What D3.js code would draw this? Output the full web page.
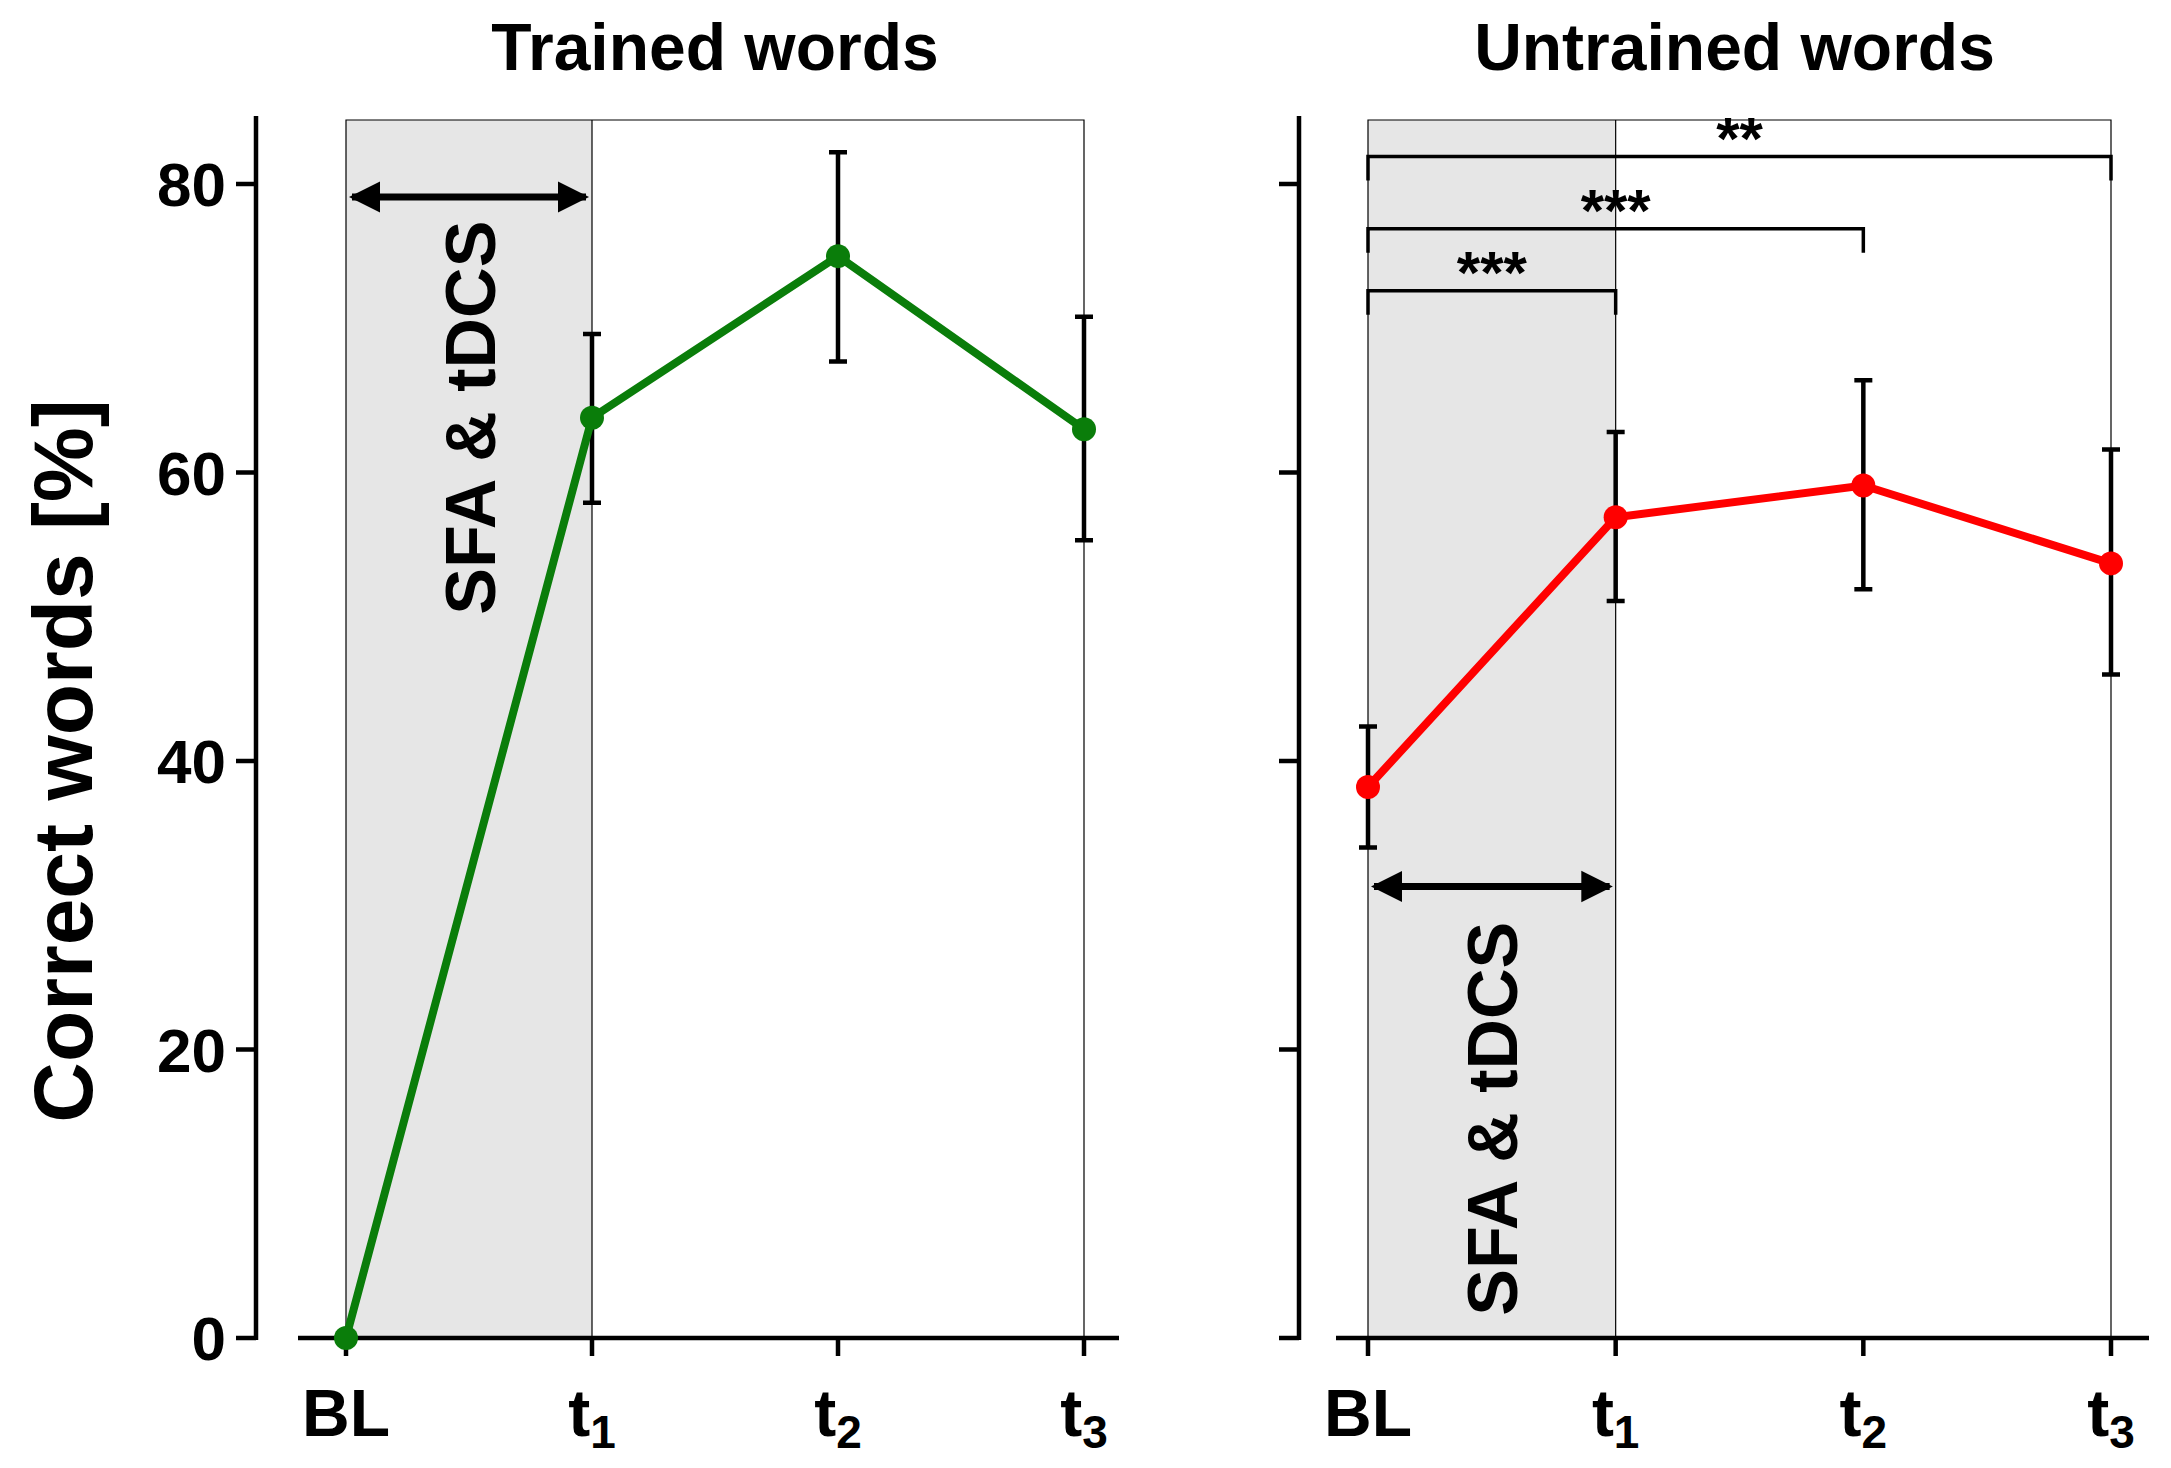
<!DOCTYPE html><html><head><meta charset="utf-8">
<script src="https://cdn.jsdelivr.net/npm/d3@7"></script>
<style>body{margin:0;background:#fff}text{font-family:"Liberation Sans",Arial,sans-serif;font-weight:bold}</style></head><body>
<svg id="c" width="2171" height="1468"></svg>
<script>
const timepoints=["BL","t1","t2","t3"];
const trainedMean=[0,63.8,75,63];
const trainedLow=[0,57.9,67.7,55.3];
const trainedHigh=[0,69.6,82.2,70.8];
const untrainedMean=[38.2,56.9,59.1,53.7];
const untrainedLow=[34,51.1,51.9,46];
const untrainedHigh=[42.4,62.8,66.4,61.6];
const yTicks=[0,20,40,60,80];
const brackets=[{from:0,to:3,y:81.9,label:"**"},{from:0,to:2,y:76.9,label:"***"},{from:0,to:1,y:72.6,label:"***"}];
const svg=d3.select("#c");
const y=d3.scaleLinear().domain([0,80]).range([1338,184]);
svg.append("defs").html('<marker id="ah" viewBox="0 0 10 10" refX="9" refY="5" markerWidth="4.5" markerHeight="5" orient="auto-start-reverse"><path d="M0,0L10,5L0,10z" fill="#000"/></marker>');
function panel(o){
  const x=d3.scalePoint().domain(timepoints).range([o.x0,o.x1]);
  const g=svg.append("g");
  g.append("rect").attr("x",x("BL")).attr("y",120).attr("width",x("t1")-x("BL")).attr("height",1338-120).attr("fill","#e6e6e6");
  g.append("path").attr("d",`M${x("BL")},1338V120H${x("t3")}V1338M${x("t1")},120V1338`).attr("fill","none").attr("stroke","#000").attr("stroke-width",1.2);
  g.append("line").attr("x1",o.ax).attr("x2",o.ax).attr("y1",116).attr("y2",1340).attr("stroke","#000").attr("stroke-width",4.5);
  g.append("line").attr("x1",o.bx0).attr("x2",o.bx1).attr("y1",1338).attr("y2",1338).attr("stroke","#000").attr("stroke-width",4.5);
  yTicks.forEach(t=>{g.append("line").attr("x1",o.ax-20).attr("x2",o.ax).attr("y1",y(t)).attr("y2",y(t)).attr("stroke","#000").attr("stroke-width",4.5);
    if(o.labels)g.append("text").attr("x",o.ax-30).attr("y",y(t)+22).attr("text-anchor","end").attr("font-size",62).text(t);});
  timepoints.forEach((t,i)=>{g.append("line").attr("x1",x(t)).attr("x2",x(t)).attr("y1",1338).attr("y2",1356).attr("stroke","#000").attr("stroke-width",4.5);
    const tx=g.append("text").attr("x",x(t)).attr("y",1436).attr("text-anchor","middle").attr("font-size",66);
    if(i==0)tx.text("BL");else{tx.text("t");tx.append("tspan").attr("font-size",46).attr("dy",12).text(i);}});
  g.append("text").attr("x",(o.x0+o.x1)/2+o.tdx).attr("y",70).attr("text-anchor","middle").attr("font-size",66).text(o.title);
  g.append("line").attr("x1",x("BL")+6).attr("x2",x("t1")-6).attr("y1",y(o.arrowY)).attr("y2",y(o.arrowY)).attr("stroke","#000").attr("stroke-width",7).attr("marker-start","url(#ah)").attr("marker-end","url(#ah)");
  g.append("text").attr("transform",`translate(${o.txtX},${y(o.txtY)}) rotate(-90)`).attr("text-anchor","middle").attr("font-size",70).text("SFA & tDCS");
  (o.brackets||[]).forEach(b=>{const a=x(timepoints[b.from]),c=x(timepoints[b.to]),yy=y(b.y);
    g.append("path").attr("d",`M${a},${yy+24}V${yy}H${c}V${yy+24}`).attr("fill","none").attr("stroke","#000").attr("stroke-width",3.5);
    g.append("text").attr("x",(a+c)/2).attr("y",yy+2).attr("text-anchor","middle").attr("font-size",60).text(b.label);});
  timepoints.forEach((t,i)=>{if(o.high[i]===o.low[i])return;const xx=x(t);
    g.append("path").attr("d",`M${xx-9},${y(o.high[i])}H${xx+9}M${xx},${y(o.high[i])}V${y(o.low[i])}M${xx-9},${y(o.low[i])}H${xx+9}`).attr("stroke","#000").attr("stroke-width",4.5).attr("fill","none");});
  g.append("path").datum(o.mean).attr("d",d3.line().x((d,i)=>x(timepoints[i])).y(d=>y(d))).attr("fill","none").attr("stroke",o.color).attr("stroke-width",8);
  g.selectAll(".pt").data(o.mean).join("circle").attr("cx",(d,i)=>x(timepoints[i])).attr("cy",d=>y(d)).attr("r",12).attr("fill",o.color);
}
panel({x0:346,x1:1084,ax:256,bx0:298,bx1:1119,labels:true,title:"Trained words",tdx:0,mean:trainedMean,low:trainedLow,high:trainedHigh,color:"#0a7d0a",arrowY:79.1,txtX:495,txtY:63.8});
panel({x0:1368,x1:2111,ax:1299,bx0:1336,bx1:2149,labels:false,title:"Untrained words",tdx:-5,mean:untrainedMean,low:untrainedLow,high:untrainedHigh,color:"#ff0000",arrowY:31.3,txtX:1517,txtY:15.2,brackets:brackets});
svg.append("text").attr("transform",`translate(92,${y(40)}) rotate(-90)`).attr("text-anchor","middle").attr("font-size",84).text("Correct words [%]");
</script></body></html>
